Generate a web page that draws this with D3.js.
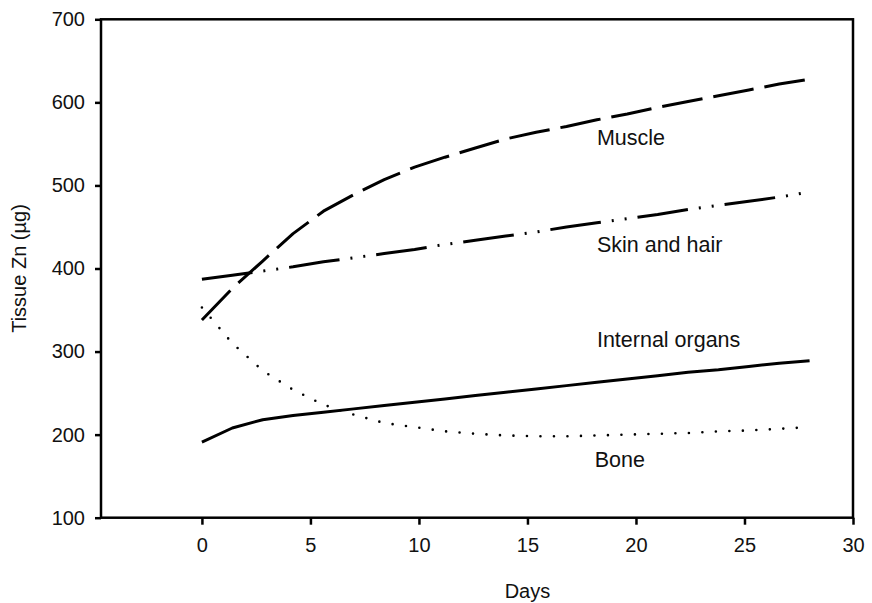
<!DOCTYPE html>
<html>
<head>
<meta charset="utf-8">
<script src="https://cdn.jsdelivr.net/npm/d3@7"></script>
<style>
  html, body { margin: 0; padding: 0; background: #fff; }
  svg { display: block; }
  text { font-family: "Liberation Sans", Arial, sans-serif; fill: #111; }
</style>
</head>
<body>
<svg id="chart" width="872" height="603"></svg>
<script>
// ---- data ----
const days = [0, 1.4, 2.8, 4.2, 5.6, 7, 8.4, 9.8, 11.2, 12.6, 14, 15.4, 16.8, 18.2, 19.6, 21, 22.4, 23.8, 25.2, 26.6, 28];
const muscle = [338, 376, 409, 442, 469, 489, 507, 522, 534, 545, 556, 564, 571, 579, 586, 594, 601, 608, 615, 622, 628];
const skinAndHair = [387, 392, 397, 402, 408, 413, 418, 423, 429, 434, 439, 444, 450, 455, 460, 465, 471, 476, 481, 486, 492];
const internalOrgans = [191, 208, 218, 223, 227, 231, 235, 239, 243, 247, 251, 255, 259, 263, 267, 271, 275, 278, 282, 286, 289];
const bone = [353, 310, 277, 254, 236, 224, 214, 209, 204, 201, 199, 198, 198, 199, 200, 201, 202, 204, 205, 207, 209];
const xTicks = [0, 5, 10, 15, 20, 25, 30];
const yTicks = [100, 200, 300, 400, 500, 600, 700];
const seriesNames = ["Muscle", "Skin and hair", "Internal organs", "Bone"];
const labelPos = [[18.2, 548.5], [18.2, 420], [18.2, 305.5], [18.1, 161]]; // label anchor in data units (day, µg)

// ---- layout ----
const svg = d3.select("#chart");
const plotL = 101, plotR = 853, plotT = 19.3, plotB = 517.7;
const x = d3.scaleLinear().domain([-4.65, 30]).range([plotL, plotR]);
const y = d3.scaleLinear().domain([100, 700]).range([plotB, plotT]);

// frame
svg.append("rect")
  .attr("x", plotL).attr("y", plotT)
  .attr("width", plotR - plotL).attr("height", plotB - plotT)
  .attr("fill", "none").attr("stroke", "#000").attr("stroke-width", 2.5);

// y axis
const yAxis = svg.append("g").attr("transform", `translate(${plotL},0)`)
  .call(d3.axisLeft(y).tickValues(yTicks).tickSize(6).tickPadding(10).tickFormat(d3.format("d")));
yAxis.select(".domain").remove();
yAxis.selectAll(".tick line").attr("stroke", "#000").attr("stroke-width", 2.5);
yAxis.selectAll(".tick text").style("font-size", "20px").attr("fill", "#111");

// x axis
const xAxis = svg.append("g").attr("transform", `translate(0,${plotB})`)
  .call(d3.axisBottom(x).tickValues(xTicks).tickSize(7).tickPadding(13).tickFormat(d3.format("d")));
xAxis.select(".domain").remove();
xAxis.selectAll(".tick line").attr("stroke", "#000").attr("stroke-width", 2.5);
xAxis.selectAll(".tick text").style("font-size", "20px").attr("fill", "#111");

// axis titles
svg.append("text")
  .attr("x", (x(0) + x(30)) / 2).attr("y", 598)
  .attr("text-anchor", "middle").style("font-size", "20px")
  .text("Days");
svg.append("text")
  .attr("transform", `translate(26,${(plotT + plotB) / 2}) rotate(-90)`)
  .attr("text-anchor", "middle").style("font-size", "20px")
  .text("Tissue Zn (µg)");

// lines
const line = d3.line().x((d, i) => x(days[i])).y(d => y(d)).curve(d3.curveLinear);
const series = [
  { values: muscle, dash: "41,11", cap: "butt", width: 3 },
  { values: skinAndHair, dash: "51,11,2,11,2,11", cap: "butt", width: 3 },
  { values: internalOrgans, dash: null, cap: "butt", width: 3 },
  { values: bone, dash: "0,13.5", cap: "round", width: 2.6 }
];
series.forEach(s => {
  const p = svg.append("path")
    .attr("d", line(s.values))
    .attr("fill", "none")
    .attr("stroke", "#000")
    .attr("stroke-width", s.width)
    .attr("stroke-linecap", s.cap)
    .attr("stroke-linejoin", "round");
  if (s.dash) p.attr("stroke-dasharray", s.dash);
});

// series labels
seriesNames.forEach((name, i) => {
  svg.append("text")
    .attr("x", x(labelPos[i][0])).attr("y", y(labelPos[i][1]))
    .style("font-size", "21.5px")
    .text(name);
});
</script>
</body>
</html>
